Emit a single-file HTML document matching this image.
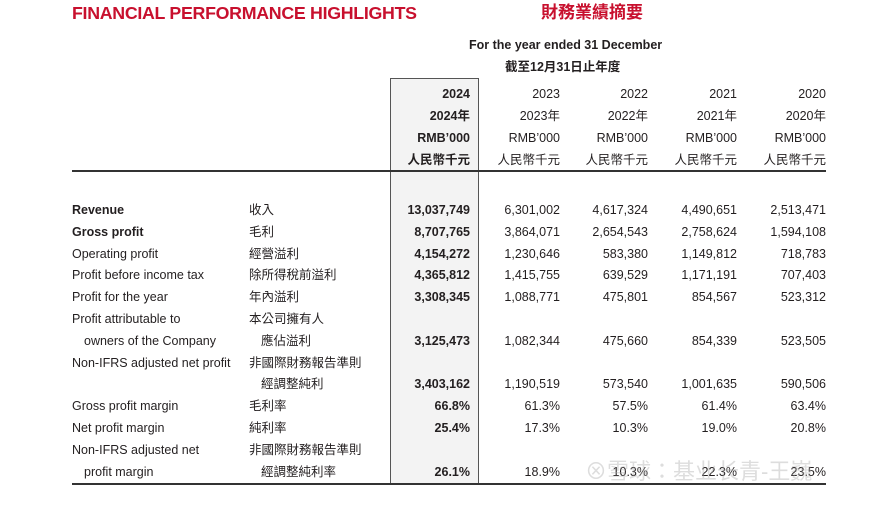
<!DOCTYPE html>
<html><head><meta charset="utf-8">
<style>
body{margin:0;width:886px;height:507px;background:#fff;position:relative;overflow:hidden;font-family:"Liberation Sans","Noto Sans CJK TC",sans-serif;color:#231f20}
.a{position:absolute;white-space:nowrap;font-size:12.5px;line-height:16px}
.r{text-align:right}
.b{font-weight:bold}
</style></head>
<body>
<div class="a b" style="left:72px;top:3px;font-size:17.8px;line-height:20px;color:#c8102e;letter-spacing:-0.3px">FINANCIAL PERFORMANCE HIGHLIGHTS</div>
<div class="a b" style="left:541px;top:3px;font-size:17px;line-height:20px;color:#c8102e">財務業績摘要</div>
<div class="a b" style="left:469px;top:37px;font-size:12.5px">For the year ended 31 December</div>
<div class="a b" style="left:505px;top:59px">截至12月31日止年度</div>
<div style="position:absolute;left:390px;top:78px;width:89px;height:406px;background:#f3f3f3;border:1px solid #555;border-bottom:none;box-sizing:border-box"></div>
<div style="position:absolute;left:72px;top:170px;width:754px;height:2px;background:#333"></div>
<div style="position:absolute;left:72px;top:483px;width:754px;height:2px;background:#333"></div>
<div id="t"></div>
<div class="a" style="left:585px;top:459px;font-size:22px;line-height:26px;color:rgba(170,170,170,0.4)">⊗雪球：基业长青-王巍</div>
<script>
const years=["2024","2023","2022","2021","2020"];
const enLabels=["Revenue","Gross profit","Operating profit","Profit before income tax","Profit for the year","Profit attributable to","  owners of the Company","Non-IFRS adjusted net profit","","Gross profit margin","Net profit margin","Non-IFRS adjusted net","  profit margin"];
const zhLabels=["收入","毛利","經營溢利","除所得稅前溢利","年內溢利","本公司擁有人","  應佔溢利","非國際財務報告準則","  經調整純利","毛利率","純利率","非國際財務報告準則","  經調整純利率"];
const v2024=["13,037,749","8,707,765","4,154,272","4,365,812","3,308,345","","3,125,473","","3,403,162","66.8%","25.4%","","26.1%"];
const v2023=["6,301,002","3,864,071","1,230,646","1,415,755","1,088,771","","1,082,344","","1,190,519","61.3%","17.3%","","18.9%"];
const v2022=["4,617,324","2,654,543","583,380","639,529","475,801","","475,660","","573,540","57.5%","10.3%","","10.3%"];
const v2021=["4,490,651","2,758,624","1,149,812","1,171,191","854,567","","854,339","","1,001,635","61.4%","19.0%","","22.3%"];
const v2020=["2,513,471","1,594,108","718,783","707,403","523,312","","523,505","","590,506","63.4%","20.8%","","23.5%"];
const series=[v2024,v2023,v2022,v2021,v2020];
const t=document.getElementById('t');
const colRight=[470,560,648,737,826];
function add(txt,x,y,cls,right,name){
  const d=document.createElement('div');
  d.className='a '+cls;
  d.textContent=txt.trim();
  if(right){d.style.left=(x-120)+'px';d.style.width='120px';d.style.textAlign='right';}
  else d.style.left=(x+(txt.startsWith('  ')?12:0))+'px';
  d.style.top=(y-8)+'px';
  
  
  t.appendChild(d);
}
const hdr=[years.map(y=>y),years.map(y=>y+"年"),years.map(()=>"RMB’000"),years.map(()=>"人民幣千元")];
hdr.forEach((row,ri)=>row.forEach((s,ci)=>add(s,colRight[ci],94+ri*22,ci===0?'b':'',true,'header-'+years[ci])));
enLabels.forEach((s,i)=>{
  const y=210+i*21.8;
  if(s) add(s,72,y,i<2?'b':'',false,'row-label-en');
  add(zhLabels[i],249,y,'zh',false,'row-label-zh');
  series.forEach((vals,ci)=>{ if(vals[i]) add(vals[i],colRight[ci],y,ci===0?'b':'',true,'cell-'+years[ci]); });
});
</script>
</body></html>
